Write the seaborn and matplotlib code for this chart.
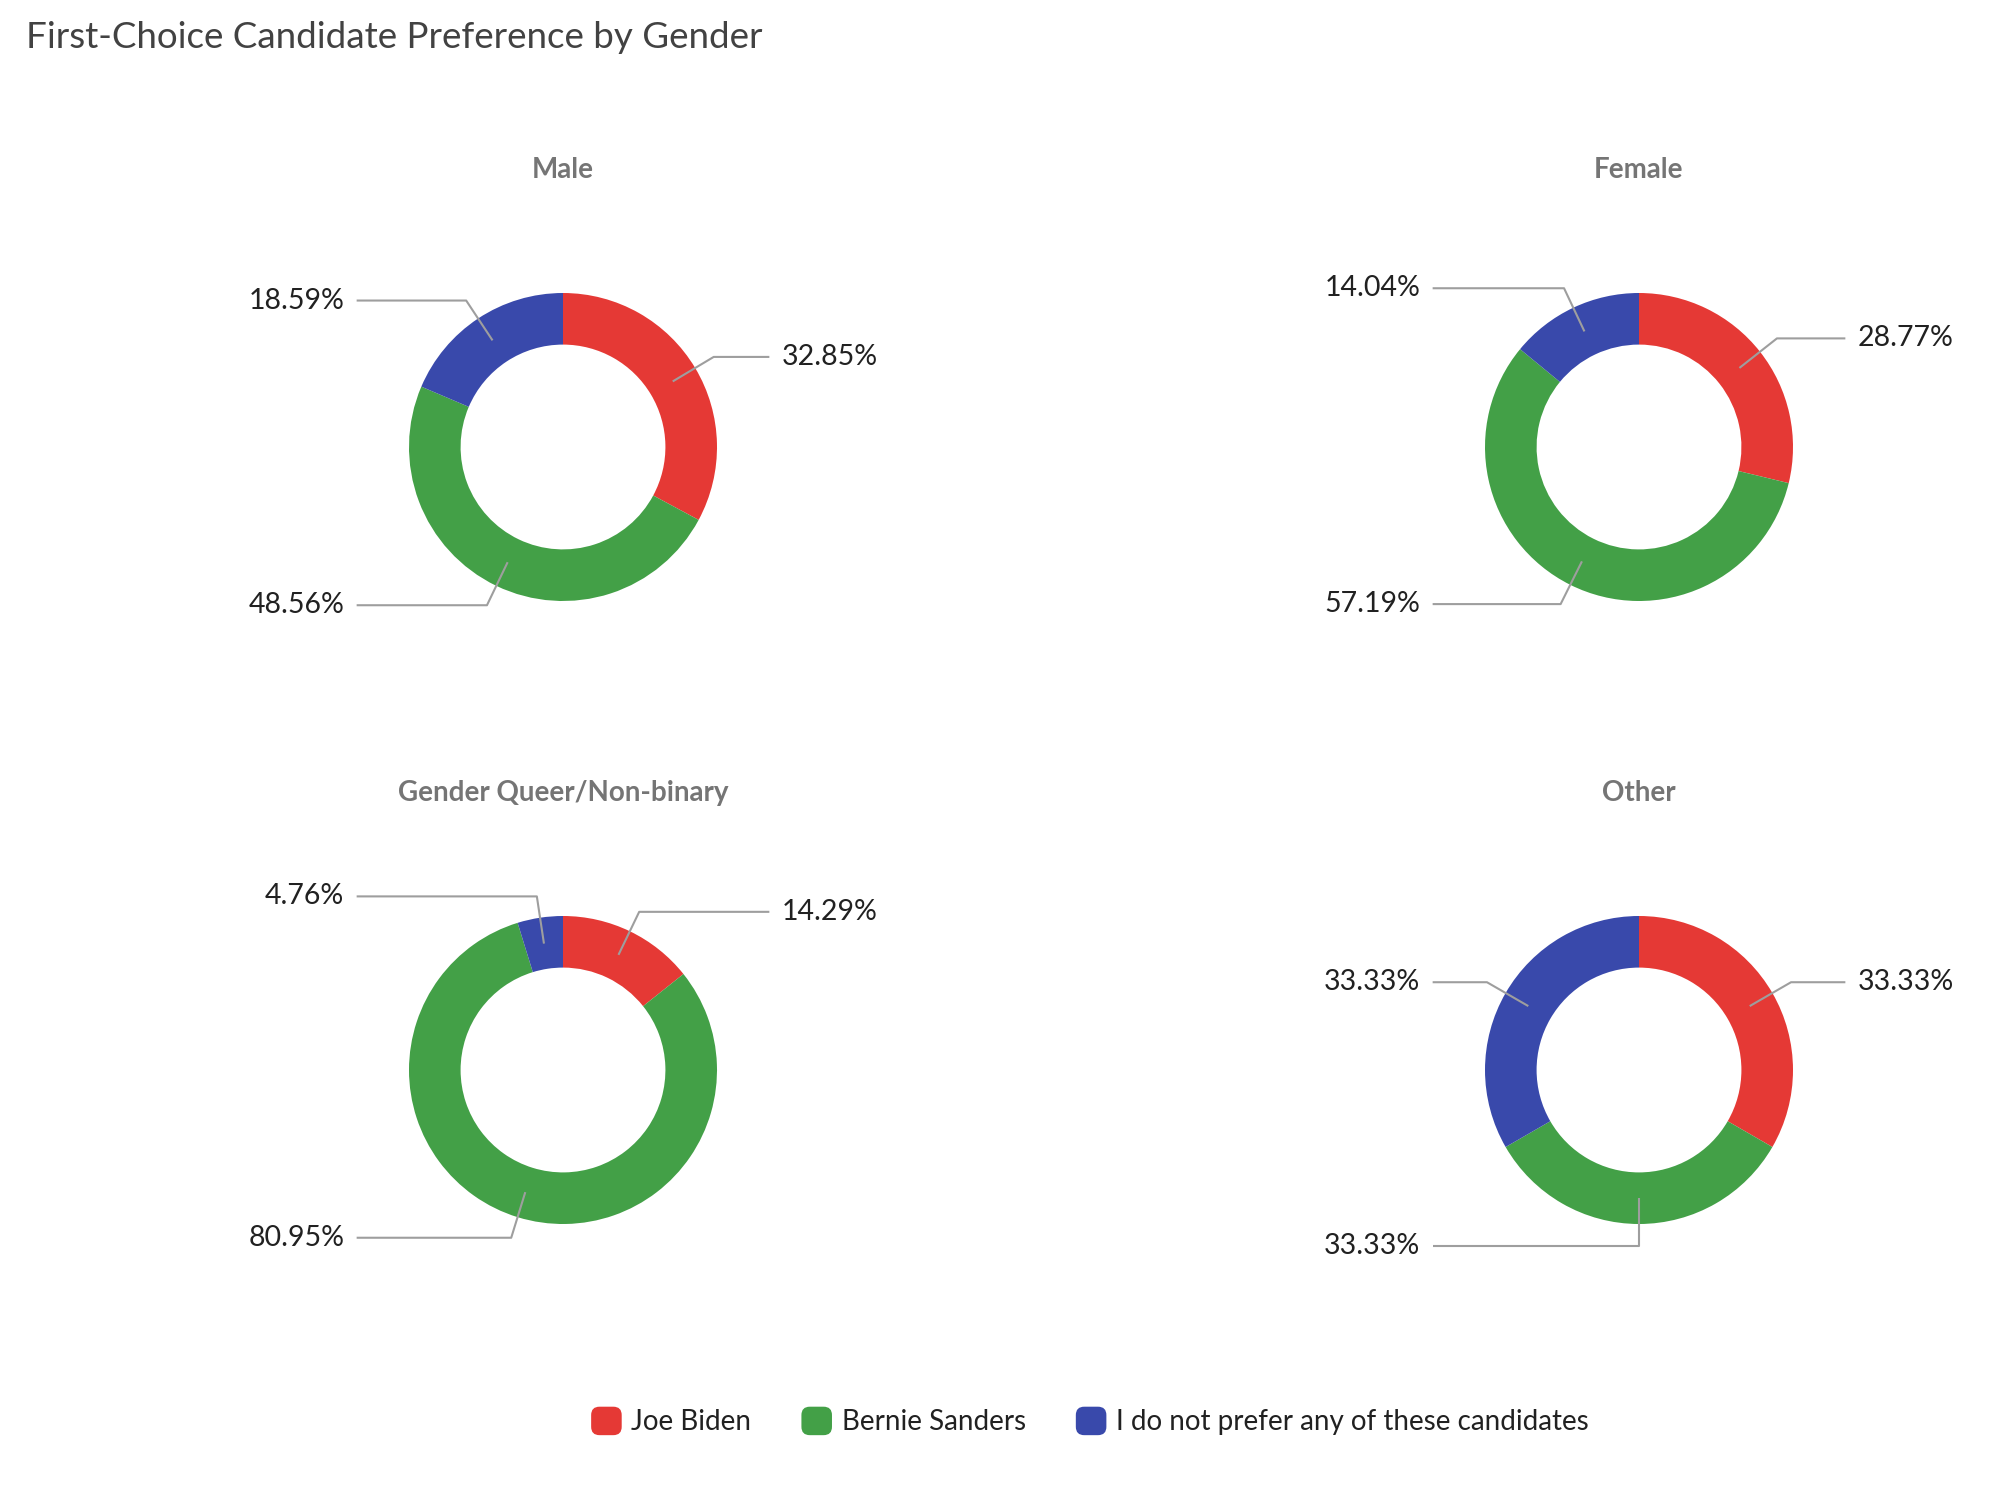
import numpy as np
import matplotlib
matplotlib.use("Agg")
import matplotlib.pyplot as plt
import seaborn as sns
from matplotlib.patches import Patch, FancyBboxPatch
from matplotlib.legend_handler import HandlerPatch

# data (percent of first-choice answers)
groups = ["Male", "Female", "Gender Queer/Non-binary", "Other"]
candidates = ["Joe Biden", "Bernie Sanders", "I do not prefer any of these candidates"]
male = [32.85, 48.56, 18.59]
female = [28.77, 57.19, 14.04]
queer = [14.29, 80.95, 4.76]
other = [33.33, 33.33, 33.33]
colors = ["#e53935", "#43a047", "#3949ab"]

sns.set_theme(style="white")
plt.rcParams["font.family"] = ["Lato", "DejaVu Sans"]

W, H = 2000, 1485
fig = plt.figure(figsize=(W / 100, H / 100), dpi=100)
fig.patch.set_facecolor("white")

R = 154        # outer radius in pixels
half = 260     # half size of each donut axes in pixels
centers = [(563, 447), (1639, 447), (563, 1070), (1639, 1070)]
palette = sns.color_palette(colors)
line_col = "#9e9e9e"


class RoundBox(HandlerPatch):
    def create_artists(self, legend, orig_handle, xdescent, ydescent,
                       width, height, fontsize, trans):
        p = FancyBboxPatch((-xdescent, -ydescent), width, height,
                           boxstyle="round,pad=0,rounding_size=6",
                           fc=orig_handle.get_facecolor(), ec="none",
                           transform=trans)
        return [p]


for name, vals, (cx, cy) in zip(groups, [male, female, queer, other], centers):
    ax = fig.add_axes([(cx - half) / W, 1 - (cy + half) / H, 2 * half / W, 2 * half / H])
    wedges, _ = ax.pie(vals, colors=palette, startangle=90, counterclock=False,
                       radius=1, wedgeprops=dict(width=0.335, linewidth=0))
    lim = half / R
    ax.set_xlim(-lim, lim)
    ax.set_ylim(-lim, lim)
    ax.set_aspect("equal")
    ax.axis("off")
    ax.text(0, 277 / R, name, ha="center", va="center", fontsize=20,
            fontweight="bold", color="#757575")

    for w, v in zip(wedges, vals):
        mid = np.deg2rad((w.theta1 + w.theta2) / 2)
        c, s = np.cos(mid), np.sin(mid)
        side = 1 if c > 0.01 else -1
        ax0 = (0.83 * c, 0.83 * s)
        ex, ey = 1.14 * c, 1.14 * s
        end = side * 1.34
        ax.plot([ax0[0], ex, end], [ax0[1], ey, ey], color=line_col, lw=1.5,
                clip_on=False, solid_capstyle="butt")
        ax.text(side * 1.42, ey, f"{v:.2f}%", ha="left" if side > 0 else "right",
                va="center", fontsize=20.5, color="#212121", clip_on=False)

fig.text(26 / W, 1 - 38 / H, "First-Choice Candidate Preference by Gender",
         ha="left", va="center", fontsize=26.5, color="#424242")

handles = [Patch(facecolor=c, label=l) for c, l in zip(colors, candidates)]
fig.legend(handles=handles, loc="center", bbox_to_anchor=(1090 / W, 1 - 1421 / H),
           ncol=3, frameon=False, fontsize=20, handlelength=1.1, handleheight=1.2,
           handletextpad=0.35, columnspacing=1.8,
           handler_map={Patch: RoundBox()}, labelcolor="#212121")

fig.savefig("out.png", dpi=100, facecolor="white")
